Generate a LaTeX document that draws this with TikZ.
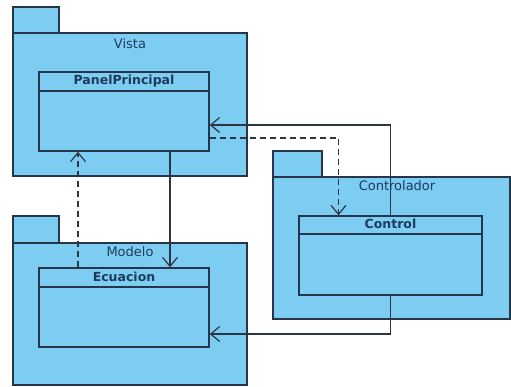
\documentclass[tikz,border=0pt]{standalone}
\usepackage{fontspec}
\setmainfont{DejaVu Sans}
\usetikzlibrary{arrows.meta,calc}
\definecolor{pkgfill}{HTML}{7DCDF3}
\definecolor{edge}{HTML}{25364A}
\definecolor{wire}{HTML}{2E3440}
\definecolor{ink}{HTML}{1E3A5C}
\tikzset{
  pkgshape/.style={draw=edge,fill=pkgfill,line width=1.5pt},
  pkglabel/.style={text=ink,font=\fontsize{13}{15}\selectfont,inner sep=0pt},
  cls/.style={draw=edge,fill=pkgfill,line width=1.5pt,inner sep=0pt,
    minimum width=170pt},
  divider/.style={draw=edge,line width=1.6pt},
  clstitle/.style={text=ink,font=\fontsize{12.5}{14}\selectfont\bfseries,inner sep=0pt},
  assoc/.style={draw=wire,line width=1.2pt,-{Straight Barb[length=9pt,width=15pt,line width=1.2pt]}},
  dep/.style={assoc,dash pattern=on 6pt off 4pt}
}
\begin{document}
\begin{tikzpicture}[x=1pt,y=-1pt]
\useasboundingbox (0,0) rectangle (511,386);

% package Vista
\draw[pkgshape] (13,7) rectangle (59,33);
\node[pkgshape,inner sep=0pt,minimum width=234pt,minimum height=143pt] (vista) at (130,104.5) {};
\node[pkglabel] (vistalbl) at (130,44) {Vista};

% package Controlador
\draw[pkgshape] (273,151) rectangle (322,177);
\node[pkgshape,inner sep=0pt,minimum width=237pt,minimum height=142pt] (controlador) at (391.5,248) {};
\node[pkglabel] (controladorlbl) at (397,186) {Controlador};

% package Modelo
\draw[pkgshape] (13,216) rectangle (59,243);
\node[pkgshape,inner sep=0pt,minimum width=234pt,minimum height=142pt] (modelo) at (130,314) {};
\node[pkglabel] (modelolbl) at (130,252) {Modelo};

% class PanelPrincipal
\node[cls,minimum height=79pt] (pp) at (124,111.5) {};
\draw[divider] ([yshift=-19.5pt]pp.north west) -- ([yshift=-19.5pt]pp.north east);
\node[clstitle] (pptitle) at ([yshift=-9.5pt]pp.north) {PanelPrincipal};

% class Control
\node[cls,minimum width=183pt,minimum height=79pt] (ctl) at (390.5,255.5) {};
\draw[divider] ([yshift=-18.5pt]ctl.north west) -- ([yshift=-18.5pt]ctl.north east);
\node[clstitle] (ctltitle) at ([yshift=-9pt]ctl.north) {Control};

% class Ecuacion
\node[cls,minimum height=79pt] (ec) at (124,307.5) {};
\draw[divider] ([yshift=-19.5pt]ec.north west) -- ([yshift=-19.5pt]ec.north east);
\node[clstitle] (ectitle) at ([yshift=-9.5pt]ec.north) {Ecuacion};

% relations
\draw[assoc] ([xshift=46pt]pp.south) -- ([xshift=46pt]ec.north);
\draw[dep] ([xshift=-46pt]ec.north) -- ([xshift=-46pt]pp.south);
\draw[assoc] (ctl.north) |- ([yshift=-13.5pt]pp.east);
\draw[dep] ([yshift=-26.5pt]pp.east) -| ([xshift=-52pt]ctl.north);
\draw[assoc] (ctl.south) |- ([yshift=-26.5pt]ec.east);
\end{tikzpicture}
\end{document}
